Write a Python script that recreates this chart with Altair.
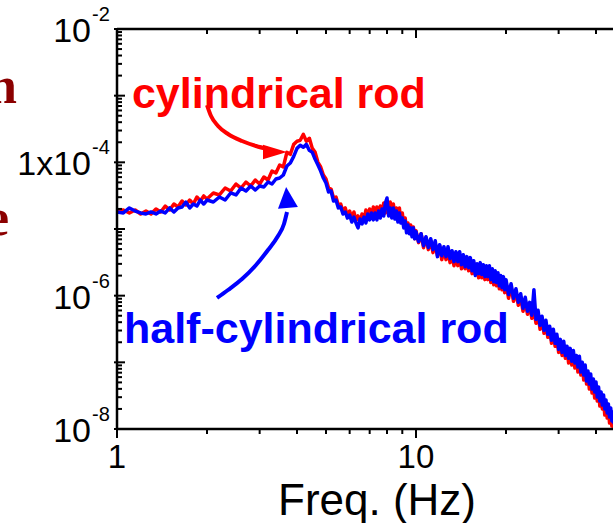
import altair as alt
import pandas as pd

# ---------------- data ----------------
freq_a = [1.00, 1.05, 1.10, 1.15, 1.20, 1.25, 1.30, 1.35, 1.40, 1.45, 1.50,
          1.55, 1.60, 1.65, 1.70, 1.75, 1.80, 1.85, 1.90, 1.95, 2.00]
freq_b = [2.1, 2.2, 2.3, 2.4, 2.5, 2.6, 2.7, 2.8, 2.9, 3.0,
          3.1, 3.2, 3.3, 3.4, 3.5, 3.6, 3.7, 3.8, 3.9, 4.0,
          4.1, 4.2, 4.3, 4.4, 4.5, 4.6, 4.7, 4.8, 4.9, 5.0]
freq_c = [5.1, 5.2, 5.3, 5.4, 5.5, 5.6, 5.7, 5.8, 5.9, 6.0,
          6.1, 6.2, 6.3, 6.4, 6.5, 6.6, 6.7, 6.8, 6.9, 7.0,
          7.1, 7.2, 7.3, 7.4, 7.5, 7.6, 7.7, 7.8, 7.9, 8.0,
          8.1, 8.2, 8.3, 8.4, 8.5, 8.6, 8.7, 8.8, 8.9, 9.0,
          9.1, 9.2, 9.3, 9.4, 9.5, 9.6, 9.7, 9.8, 9.9, 10.0]
freq_d = [10.2, 10.4, 10.6, 10.8, 11.0, 11.2, 11.4, 11.6, 11.8, 12.0,
          12.2, 12.4, 12.6, 12.8, 13.0, 13.2, 13.4, 13.6, 13.8, 14.0,
          14.2, 14.4, 14.6, 14.8, 15.0, 15.2, 15.4, 15.6, 15.8, 16.0,
          16.2, 16.4, 16.6, 16.8, 17.0, 17.2, 17.4, 17.6, 17.8, 18.0,
          18.2, 18.4, 18.6, 18.8, 19.0, 19.2, 19.4, 19.6, 19.8, 20.0]
freq_e = [20.4, 20.8, 21.2, 21.6, 22.0, 22.4, 22.8, 23.2, 23.6, 24.0,
          24.4, 24.8, 25.2, 25.6, 26.0, 26.4, 26.8, 27.2, 27.6, 28.0,
          28.4, 28.8, 29.2, 29.6, 30.0, 30.4, 30.8, 31.2, 31.6, 32.0,
          32.4, 32.8, 33.2, 33.6, 34.0, 34.4, 34.8, 35.2, 35.6, 36.0,
          36.4, 36.8, 37.2, 37.6, 38.0, 38.4, 38.8, 39.2, 39.6, 40.0,
          40.4, 40.8, 41.2, 41.6, 42.0, 42.4, 42.8, 43.2, 43.6, 44.0,
          44.4, 44.8, 45.2, 45.6, 46.0]
freq = freq_a + freq_b + freq_c + freq_d + freq_e

psd_cylindrical = [
    # 1.00 - 2.00
    1.86e-5, 1.93e-5, 1.74e-5, 1.93e-5, 1.68e-5, 1.86e-5, 1.68e-5, 2.00e-5, 1.80e-5, 2.21e-5,
    1.93e-5, 2.37e-5, 2.14e-5, 2.63e-5, 2.29e-5, 2.72e-5, 2.37e-5, 3.02e-5, 2.63e-5, 3.13e-5, 2.82e-5,
    # 2.1 - 5.0
    3.47e-5, 3.24e-5, 4.12e-5, 3.72e-5, 4.73e-5, 4.12e-5, 5.07e-5, 4.42e-5, 5.43e-5, 4.73e-5,
    6.03e-5, 5.43e-5, 7.41e-5, 6.92e-5, 9.12e-5, 8.51e-5, 1.41e-4, 1.32e-4, 1.86e-4, 2.07e-4,
    2.14e-4, 2.63e-4, 2.07e-4, 2.29e-4, 1.62e-4, 1.41e-4, 1.00e-4, 8.51e-5, 6.46e-5, 5.62e-5,
    # 5.1 - 10.0
    4.12e-5, 3.98e-5, 2.92e-5, 3.02e-5, 2.29e-5, 2.37e-5, 1.86e-5, 2.07e-5, 1.57e-5, 1.86e-5,
    1.46e-5, 1.80e-5, 1.37e-5, 1.57e-5, 1.23e-5, 1.68e-5, 1.37e-5, 1.93e-5, 1.51e-5, 2.00e-5,
    1.51e-5, 2.14e-5, 1.62e-5, 2.14e-5, 1.62e-5, 2.21e-5, 1.68e-5, 2.46e-5, 1.74e-5, 2.46e-5,
    1.74e-5, 2.54e-5, 1.68e-5, 2.37e-5, 1.57e-5, 2.07e-5, 1.46e-5, 2.07e-5, 1.32e-5, 1.74e-5,
    1.15e-5, 1.46e-5, 9.77e-6, 1.23e-5, 8.81e-6, 1.15e-5, 8.22e-6, 1.07e-5, 7.16e-6, 9.44e-6,
    # 10.2 - 20.0
    6.24e-6, 8.51e-6, 5.25e-6, 7.41e-6, 4.90e-6, 6.68e-6, 4.42e-6, 6.03e-6, 3.98e-6, 5.62e-6,
    3.47e-6, 4.90e-6, 3.47e-6, 4.73e-6, 3.13e-6, 4.27e-6, 2.82e-6, 4.12e-6, 2.82e-6, 3.98e-6,
    2.54e-6, 3.72e-6, 2.54e-6, 3.59e-6, 2.37e-6, 3.35e-6, 2.14e-6, 3.13e-6, 2.07e-6, 2.82e-6,
    1.86e-6, 2.82e-6, 1.86e-6, 2.72e-6, 1.74e-6, 2.54e-6, 1.74e-6, 2.54e-6, 1.57e-6, 2.37e-6,
    1.46e-6, 2.14e-6, 1.41e-6, 2.00e-6, 1.27e-6, 1.80e-6, 1.23e-6, 1.74e-6, 1.11e-6, 1.57e-6,
    # 20.4 - 46.0
    9.12e-7, 1.37e-6, 8.22e-7, 1.15e-6, 7.16e-7, 9.44e-7, 5.82e-7, 8.51e-7, 5.25e-7, 7.41e-7,
    4.57e-7, 6.03e-7, 3.85e-7, 5.43e-7, 3.13e-7, 4.57e-7, 2.72e-7, 3.85e-7, 2.37e-7, 3.24e-7,
    1.93e-7, 2.82e-7, 1.74e-7, 2.37e-7, 1.41e-7, 2.07e-7, 1.27e-7, 1.80e-7, 1.15e-7, 1.62e-7,
    9.77e-8, 1.46e-7, 9.12e-8, 1.32e-7, 8.22e-8, 1.15e-7, 7.16e-8, 1.07e-7, 6.46e-8, 9.12e-8,
    5.43e-8, 7.94e-8, 4.73e-8, 6.68e-8, 3.98e-8, 5.62e-8, 3.47e-8, 4.90e-8, 2.92e-8, 4.27e-8,
    2.63e-8, 3.72e-8, 2.21e-8, 3.24e-8, 2.00e-8, 2.72e-8, 1.62e-8, 2.37e-8, 1.46e-8, 2.07e-8,
    1.23e-8, 1.74e-8, 1.11e-8, 1.51e-8, 1.00e-8,
]

psd_half_cylindrical = [
    # 1.00 - 2.00
    1.80e-5, 1.74e-5, 2.07e-5, 1.86e-5, 1.74e-5, 1.68e-5, 1.80e-5, 1.68e-5, 1.86e-5, 1.74e-5,
    2.07e-5, 1.80e-5, 2.07e-5, 2.14e-5, 2.54e-5, 2.07e-5, 2.37e-5, 2.21e-5, 2.72e-5, 2.37e-5, 2.72e-5,
    # 2.1 - 5.0
    2.54e-5, 3.02e-5, 2.72e-5, 3.47e-5, 3.24e-5, 4.12e-5, 3.72e-5, 4.42e-5, 3.85e-5, 4.42e-5,
    4.27e-5, 5.07e-5, 4.73e-5, 5.62e-5, 5.82e-5, 6.46e-5, 8.81e-5, 9.77e-5, 1.23e-4, 1.62e-4,
    1.80e-4, 1.68e-4, 1.86e-4, 1.51e-4, 1.41e-4, 1.11e-4, 9.12e-5, 7.41e-5, 5.82e-5, 4.90e-5,
    # 5.1 - 10.0
    3.59e-5, 3.72e-5, 2.63e-5, 2.72e-5, 2.07e-5, 2.14e-5, 1.68e-5, 1.80e-5, 1.46e-5, 1.62e-5,
    1.27e-5, 1.51e-5, 1.23e-5, 1.04e-5, 1.41e-5, 1.19e-5, 1.51e-5, 1.23e-5, 1.68e-5, 1.37e-5,
    1.74e-5, 1.37e-5, 1.74e-5, 1.37e-5, 1.86e-5, 1.46e-5, 2.00e-5, 1.57e-5, 2.46e-5, 2.92e-5,
    1.57e-5, 2.07e-5, 1.46e-5, 2.07e-5, 1.41e-5, 1.86e-5, 1.27e-5, 1.74e-5, 1.23e-5, 1.46e-5,
    1.04e-5, 1.32e-5, 8.81e-6, 1.15e-5, 8.51e-6, 1.04e-5, 7.67e-6, 1.04e-5, 7.16e-6, 9.12e-6,
    # 10.2 - 20.0
    6.46e-6, 8.51e-6, 5.62e-6, 7.67e-6, 5.25e-6, 7.16e-6, 4.90e-6, 6.68e-6, 3.85e-6, 5.82e-6,
    3.98e-6, 5.43e-6, 3.85e-6, 5.43e-6, 3.59e-6, 4.73e-6, 3.24e-6, 4.57e-6, 3.24e-6, 4.57e-6,
    2.92e-6, 4.12e-6, 2.72e-6, 3.85e-6, 2.63e-6, 3.72e-6, 2.37e-6, 3.35e-6, 2.00e-6, 3.02e-6,
    2.14e-6, 3.13e-6, 2.07e-6, 2.92e-6, 1.93e-6, 2.82e-6, 1.93e-6, 2.82e-6, 1.74e-6, 2.54e-6,
    1.62e-6, 2.37e-6, 1.57e-6, 2.21e-6, 1.41e-6, 2.00e-6, 1.32e-6, 1.93e-6, 1.23e-6, 1.74e-6,
    # 20.4 - 46.0
    1.04e-6, 1.51e-6, 9.12e-7, 1.27e-6, 7.94e-7, 1.07e-6, 6.46e-7, 9.44e-7, 5.82e-7, 7.94e-7,
    5.07e-7, 1.23e-6, 4.42e-7, 6.03e-7, 3.59e-7, 4.90e-7, 3.02e-7, 4.27e-7, 2.63e-7, 3.47e-7,
    2.14e-7, 3.13e-7, 1.93e-7, 2.63e-7, 1.57e-7, 2.21e-7, 1.41e-7, 2.07e-7, 1.27e-7, 1.74e-7,
    1.15e-7, 1.62e-7, 1.04e-7, 1.51e-7, 9.77e-8, 1.27e-7, 8.51e-8, 1.23e-7, 7.16e-8, 1.00e-7,
    6.46e-8, 9.12e-8, 5.25e-8, 7.41e-8, 4.73e-8, 6.68e-8, 3.98e-8, 5.62e-8, 3.59e-8, 5.07e-8,
    3.02e-8, 4.27e-8, 2.63e-8, 3.59e-8, 2.29e-8, 3.24e-8, 2.00e-8, 2.72e-8, 1.74e-8, 2.37e-8,
    1.51e-8, 2.07e-8, 1.32e-8, 1.80e-8, 1.19e-8,
]

# annotation arrows (in data coordinates)
arrow_cyl_f = [2.000, 2.063, 2.177, 2.351, 2.619, 2.917, 3.199]
arrow_cyl_p = [7.24e-4, 4.95e-4, 3.51e-4, 2.66e-4, 2.09e-4, 1.76e-4, 1.585e-4]
head_cyl_f = [3.376]
head_cyl_p = [1.43e-4]
arrow_half_f = [2.160, 2.351, 2.619, 2.917, 3.199, 3.455, 3.618, 3.704]
arrow_half_p = [9.23e-7, 1.216e-6, 1.778e-6, 2.884e-6, 4.84e-6, 7.85e-6, 1.19e-5, 1.80e-5]
head_half_f = [3.704]
head_half_p = [2.97e-5]

label_cyl = "cylindrical rod"
label_cyl_f = [1.122]
label_cyl_p = [6.53e-4]
label_half = "half-cylindrical rod"
label_half_f = [1.055]
label_half_p = [1.95e-7]

# axis ticks and labels
y_decades = [1e-8, 1e-7, 1e-6, 1e-5, 1e-4, 1e-3, 1e-2]
y_minor = [m * d for d in y_decades[:-1] for m in range(2, 10)]
y_label_values = [1e-2, 1e-4, 1e-6, 1e-8]
y_label_base = ["10", "1x10", "10", "10"]
y_label_exp = ["-2", "-4", "-6", "-8"]
x_major = [1, 10]
x_minor = [2, 3, 4, 5, 6, 7, 8, 9, 20, 30, 40]
x_label_values = [1, 10]
x_label_text = ["1", "10"]
x_title = "Freq. (Hz)"

# ---------------- chart ----------------
W, H = 496, 400
FONT = "Liberation Sans"
xs = alt.Scale(type="log", domain=[1, 45.6], nice=False)
ys = alt.Scale(type="log", domain=[1e-8, 1e-2], nice=False)


def X(field):
    return alt.X(field, type="quantitative", scale=xs, axis=None)


def Y(field):
    return alt.Y(field, type="quantitative", scale=ys, axis=None)


dummy = pd.DataFrame({"d": [0]})
spec = pd.DataFrame({"f": freq, "cyl": psd_cylindrical, "half": psd_half_cylindrical})

line_cyl = alt.Chart(spec).mark_line(
    color="#ff0000", strokeWidth=3.5, strokeJoin="round", clip=True
).encode(x=X("f"), y=Y("cyl"))
line_half = alt.Chart(spec).mark_line(
    color="#0000ff", strokeWidth=3.5, strokeJoin="round", clip=True
).encode(x=X("f"), y=Y("half"))

arrow_cyl = alt.Chart(pd.DataFrame({"f": arrow_cyl_f, "p": arrow_cyl_p})).mark_line(
    color="#ff0000", strokeWidth=4, interpolate="monotone"
).encode(x=X("f"), y=Y("p"))
head_cyl = alt.Chart(pd.DataFrame({"f": head_cyl_f, "p": head_cyl_p})).mark_point(
    shape="M1,0L-1,-0.6L-1,0.6Z", size=576, filled=True, opacity=1,
    color="#ff0000", strokeWidth=0
).encode(x=X("f"), y=Y("p"))
arrow_half = alt.Chart(pd.DataFrame({"f": arrow_half_f, "p": arrow_half_p})).mark_line(
    color="#0000ff", strokeWidth=4, interpolate="monotone"
).encode(x=X("f"), y=Y("p"))
head_half = alt.Chart(pd.DataFrame({"f": head_half_f, "p": head_half_p})).mark_point(
    shape="M0,-1L0.95,1L-0.95,1Z", size=441, filled=True, opacity=1,
    color="#0000ff", strokeWidth=0, angle=355
).encode(x=X("f"), y=Y("p"))

text_cyl = alt.Chart(pd.DataFrame({"f": label_cyl_f, "p": label_cyl_p, "t": [label_cyl]})).mark_text(
    align="left", baseline="alphabetic", font=FONT, fontSize=43, fontWeight="bold", color="#ff0000"
).encode(x=X("f"), y=Y("p"), text="t:N")
text_half = alt.Chart(pd.DataFrame({"f": label_half_f, "p": label_half_p, "t": [label_half]})).mark_text(
    align="left", baseline="alphabetic", font=FONT, fontSize=43, fontWeight="bold", color="#0000ff"
).encode(x=X("f"), y=Y("p"), text="t:N")

# frame
frame_left = alt.Chart(dummy).mark_rule(color="black", strokeWidth=2.5).encode(
    x=alt.value(0), y=alt.value(0), y2=alt.value(H))
frame_bottom = alt.Chart(dummy).mark_rule(color="black", strokeWidth=2.5).encode(
    x=alt.value(0), x2=alt.value(W), y=alt.value(H))
frame_top = alt.Chart(dummy).mark_rule(color="black", strokeWidth=2.5).encode(
    x=alt.value(0), x2=alt.value(W), y=alt.value(0))

# ticks
xminor_df = pd.DataFrame({"v": x_minor})
xmajor_df = pd.DataFrame({"v": x_major})
tick_xb_minor = alt.Chart(xminor_df).mark_rule(color="black", strokeWidth=2).encode(
    x=X("v"), y=alt.value(H), y2=alt.value(H + 5))
tick_xb_major = alt.Chart(xmajor_df).mark_rule(color="black", strokeWidth=2).encode(
    x=X("v"), y=alt.value(H), y2=alt.value(H + 9))
tick_xt_minor = alt.Chart(xminor_df).mark_rule(color="black", strokeWidth=2).encode(
    x=X("v"), y=alt.value(0), y2=alt.value(5))
tick_xt_major = alt.Chart(xmajor_df).mark_rule(color="black", strokeWidth=2).encode(
    x=X("v"), y=alt.value(0), y2=alt.value(9))
tick_y_minor = alt.Chart(pd.DataFrame({"v": y_minor})).mark_rule(color="black", strokeWidth=2).encode(
    y=Y("v"), x=alt.value(0), x2=alt.value(5))
tick_y_major = alt.Chart(pd.DataFrame({"v": y_decades})).mark_rule(color="black", strokeWidth=2).encode(
    y=Y("v"), x=alt.value(-3), x2=alt.value(8))

# tick labels
ylab_df = pd.DataFrame({"v": y_label_values, "b": y_label_base, "e": y_label_exp})
ylab_main = alt.Chart(ylab_df).mark_text(
    align="right", baseline="alphabetic", font=FONT, fontSize=34, dy=13, color="black"
).encode(y=Y("v"), x=alt.value(-26), text="b:N")
ylab_exp = alt.Chart(ylab_df).mark_text(
    align="left", baseline="alphabetic", font=FONT, fontSize=20, dy=-8, color="black"
).encode(y=Y("v"), x=alt.value(-25), text="e:N")
xlab = alt.Chart(pd.DataFrame({"v": x_label_values, "t": x_label_text})).mark_text(
    align="center", baseline="alphabetic", font=FONT, fontSize=33, color="black"
).encode(x=X("v"), y=alt.value(H + 39), text="t:N")
xtitle = alt.Chart(pd.DataFrame({"t": [x_title]})).mark_text(
    align="center", baseline="alphabetic", font=FONT, fontSize=44, color="black"
).encode(x=alt.value(260), y=alt.value(486), text="t:N")

# letters of a neighbouring text, cropped at the left edge as in the reference
frag_n = alt.Chart(pd.DataFrame({"t": ["n"]})).mark_text(
    align="right", baseline="alphabetic", font="Liberation Serif", fontSize=52,
    fontWeight="bold", color="#8b0000"
).encode(x=alt.value(-100), y=alt.value(74), text="t:N")
frag_e = alt.Chart(pd.DataFrame({"t": ["e"]})).mark_text(
    align="right", baseline="alphabetic", font="Liberation Serif", fontSize=52,
    fontWeight="bold", color="#8b0000"
).encode(x=alt.value(-108), y=alt.value(206), text="t:N")

chart = alt.layer(
    line_cyl, line_half,
    arrow_cyl, head_cyl, arrow_half, head_half,
    text_cyl, text_half,
    tick_xb_minor, tick_xb_major, tick_xt_minor, tick_xt_major, tick_y_minor, tick_y_major,
    frame_left, frame_bottom, frame_top,
    ylab_main, ylab_exp, xlab, xtitle,
    frag_n, frag_e,
).properties(
    width=W, height=H,
    padding={"left": 117, "top": 29, "right": 0, "bottom": 94},
    autosize=alt.AutoSizeParams(type="none"),
).configure_view(strokeWidth=0)

chart.save("out.html", embed_options={"renderer": "svg", "actions": False})
